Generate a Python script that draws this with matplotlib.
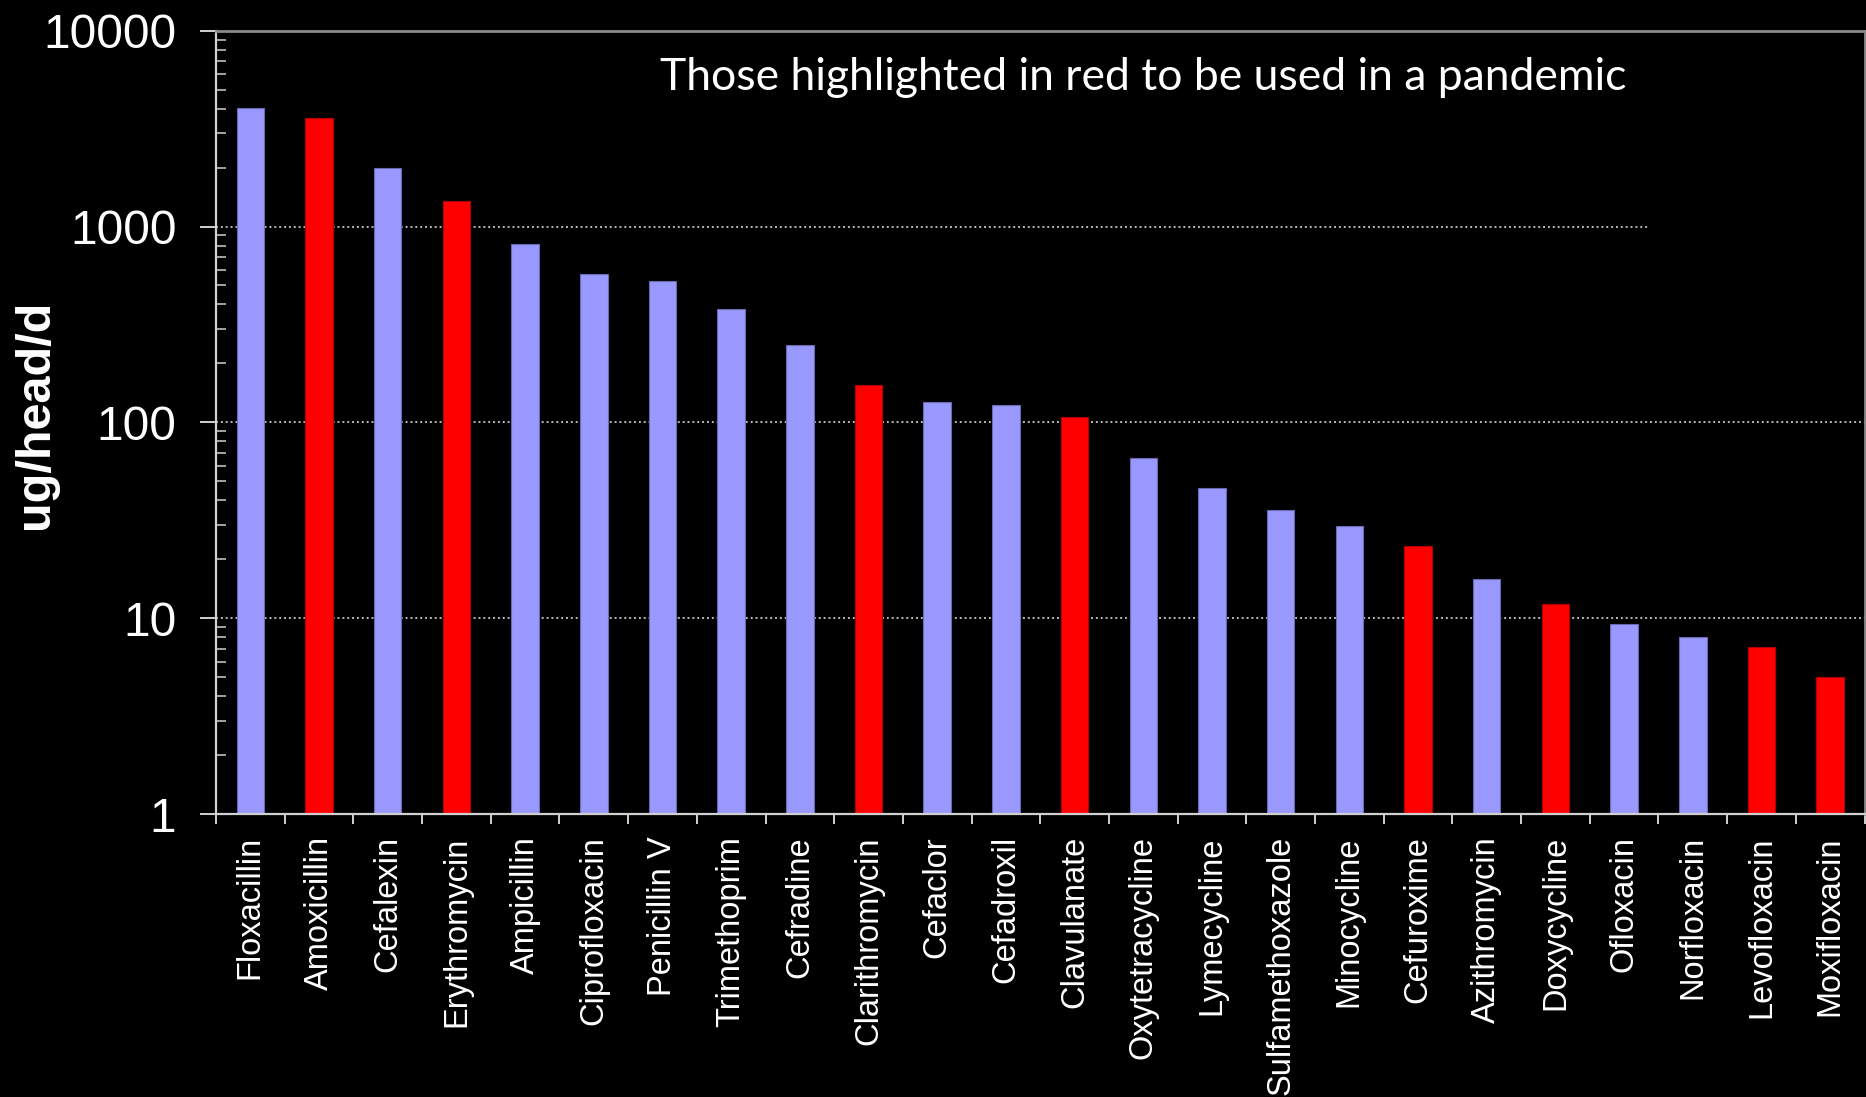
import numpy as np
import matplotlib
matplotlib.use("Agg")
import matplotlib.pyplot as plt
from matplotlib.ticker import LogLocator, NullFormatter, FixedLocator

# antibiotic usage, ug/head/d (log scale)
drugs = ["Floxacillin", "Amoxicillin", "Cefalexin", "Erythromycin", "Ampicillin",
         "Ciprofloxacin", "Penicillin V", "Trimethoprim", "Cefradine", "Clarithromycin",
         "Cefaclor", "Cefadroxil", "Clavulanate", "Oxytetracycline", "Lymecycline",
         "Sulfamethoxazole", "Minocycline", "Cefuroxime", "Azithromycin", "Doxycycline",
         "Ofloxacin", "Norfloxacin", "Levofloxacin", "Moxifloxacin"]
usage = [4050, 3590, 1985, 1352, 818, 575, 526, 378, 249, 156,
         127, 123, 106, 66, 46.2, 35.6, 29.7, 23.4, 15.9, 11.8,
         9.34, 8.05, 7.13, 5.01]
pandemic = [False, True, False, True, False, False, False, False, False, True,
            False, False, True, False, False, False, False, True, False, True,
            False, False, True, True]
y_ticks = [1, 10, 100, 1000, 10000]
y_ticklabels = ["1", "10", "100", "1000", "10000"]

W, H = 1866, 1097
fig = plt.figure(figsize=(W / 100, H / 100), dpi=100, facecolor="black")
ax = fig.add_axes([216 / W, 1 - 814 / H, (1864.5 - 216) / W, (814 - 30.7) / H])
ax.set_facecolor("black")

x = np.arange(len(drugs))
colors = ["#ff0000" if p else "#9999ff" for p in pandemic]
edges = ["#b00000" if p else "#6a6ab0" for p in pandemic]
ax.bar(x, usage, width=0.4, color=colors, edgecolor=edges, linewidth=0.8, zorder=2)

ax.set_yscale("log")
ax.set_ylim(1, 10000)
ax.set_xlim(-0.5, len(drugs) - 0.5)

# gridlines (the 1000 one stops short in the original)
for v in [10, 100]:
    ax.axhline(v, color="#b8b8b8", lw=1.4, ls=(0, (1, 1.5)), zorder=1)
ax.axhline(1000, xmax=0.87, color="#b8b8b8", lw=1.4, ls=(0, (1, 1.5)), zorder=1)

# y ticks
ax.yaxis.set_major_locator(FixedLocator(y_ticks))
ax.set_yticklabels(y_ticklabels, fontsize=34.5, color="white", family="Liberation Sans")
ax.yaxis.set_minor_locator(LogLocator(base=10, subs=np.arange(2, 10)))
ax.yaxis.set_minor_formatter(NullFormatter())
ax.tick_params(axis="y", which="major", direction="out", length=11.5, width=1.4,
               color="#d0d0d0", pad=17)
ax.tick_params(axis="y", which="minor", direction="in", length=7, width=1.2,
               color="#c0c0c0")

# x ticks: boundaries get tick marks, centres get labels
ax.xaxis.set_major_locator(FixedLocator(np.arange(len(drugs) + 1) - 0.5))
ax.xaxis.set_major_formatter(NullFormatter())
ax.xaxis.set_minor_locator(FixedLocator(x))
ax.set_xticklabels(drugs, minor=True, rotation=90, fontsize=23.5, color="white",
                   family="Liberation Sans")
ax.tick_params(axis="x", which="major", direction="out", length=7.2, width=1.4,
               color="#d0d0d0")
ax.tick_params(axis="x", which="minor", length=0, pad=16)

for side in ["left", "bottom"]:
    ax.spines[side].set_color("#d0d0d0")
    ax.spines[side].set_linewidth(1.6)
for side in ["top", "right"]:
    ax.spines[side].set_color("#8a8a8a")
    ax.spines[side].set_linewidth(2)
ax.spines["bottom"].set_zorder(3)

fig.text(36 / W, 1 - 414 / H, "ug/head/d", rotation=90, ha="center", va="center",
         fontsize=35, fontweight="bold", color="white", family="Liberation Sans")

ax.text((660 - 216) / 1650, (814 - 90) / 783.3,
        "Those highlighted in red to be used in a pandemic",
        transform=ax.transAxes, ha="left", va="baseline", fontsize=32,
        color="white", family="Lato")

fig.savefig("out.png", dpi=100, facecolor="black")
